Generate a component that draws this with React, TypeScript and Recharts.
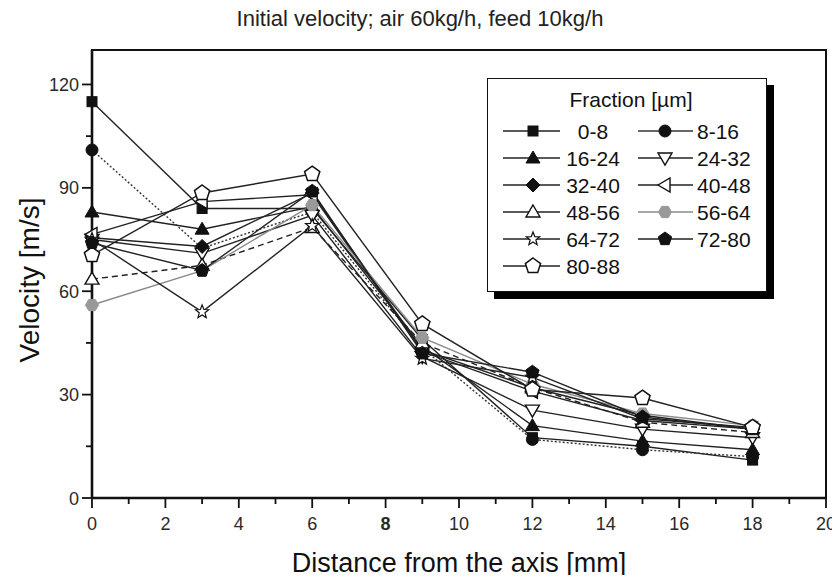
import React from 'react';
import { LineChart, Line, XAxis, YAxis, ReferenceArea, Legend } from 'recharts';

// Radial positions of the measurement points [mm]
const distances = [0, 3, 6, 9, 12, 15, 18];

// Particle size fractions [µm]
const fractions = ['0-8', '8-16', '16-24', '24-32', '32-40', '40-48', '48-56', '56-64', '64-72', '72-80', '80-88'];

// Initial velocity [m/s] of each fraction at the positions above
const vel_0_8 = [115, 84, 84, 46, 17.5, 15, 11];
const vel_8_16 = [101, 72.5, 83, 43.5, 17, 14, 12];
const vel_16_24 = [83, 78, 84.5, 44, 21, 16.5, 14];
const vel_24_32 = [75, 71, 82, 41, 25.5, 20, 17.5];
const vel_32_40 = [75.5, 73, 88.5, 43, 32, 24, 20];
const vel_40_48 = [76.5, 86, 88, 42.5, 31, 22.5, 20];
const vel_48_56 = [63.5, 67.5, 78.5, 45, 32, 22, 19];
const vel_56_64 = [56, 66, 85, 46.5, 33, 24.5, 21];
const vel_64_72 = [75, 54, 79, 40.5, 35, 23, 20.5];
const vel_72_80 = [74, 66, 89, 42, 36.5, 23.5, 20];
const vel_80_88 = [70.5, 88.5, 94, 50.5, 31.5, 29, 20.5];

const seriesValues = [
  vel_0_8, vel_8_16, vel_16_24, vel_24_32, vel_32_40, vel_40_48,
  vel_48_56, vel_56_64, vel_64_72, vel_72_80, vel_80_88,
];

const xTicks = [0, 1, 2, 3, 4, 5, 6, 7, 8, 9, 10, 11, 12, 13, 14, 15, 16, 17, 18, 19, 20];
const yTicks = [0, 15, 30, 45, 60, 75, 90, 105, 120];

type Shape =
  | 'square' | 'circle' | 'triangle' | 'triangleDownOpen' | 'diamond' | 'triangleLeftOpen'
  | 'triangleOpen' | 'hexagonGray' | 'starOpen' | 'pentagon' | 'pentagonOpen';

const styles: { shape: Shape; color: string; dash?: string }[] = [
  { shape: 'square', color: '#222' },
  { shape: 'circle', color: '#333', dash: '2 2' },
  { shape: 'triangle', color: '#222' },
  { shape: 'triangleDownOpen', color: '#222' },
  { shape: 'diamond', color: '#222' },
  { shape: 'triangleLeftOpen', color: '#222' },
  { shape: 'triangleOpen', color: '#222', dash: '6 4' },
  { shape: 'hexagonGray', color: '#8a8a8a' },
  { shape: 'starOpen', color: '#222' },
  { shape: 'pentagon', color: '#222' },
  { shape: 'pentagonOpen', color: '#222' },
];

const data = distances.map((d, i) => {
  const row: Record<string, number> = { x: d };
  seriesValues.forEach((vals, k) => {
    row[`s${k}`] = vals[i];
  });
  return row;
});

const INK = '#111';
const FONT = "'Liberation Sans', Arial, sans-serif";
const TICK_FONT = "'Liberation Sans Narrow', 'Liberation Sans', Arial, sans-serif";

function polygon(cx: number, cy: number, n: number, r: number, rot: number) {
  const pts: string[] = [];
  for (let i = 0; i < n; i++) {
    const a = rot + (i * 2 * Math.PI) / n;
    pts.push(`${cx + r * Math.cos(a)},${cy + r * Math.sin(a)}`);
  }
  return pts.join(' ');
}

function star(cx: number, cy: number, ro: number, ri: number) {
  const pts: string[] = [];
  for (let i = 0; i < 10; i++) {
    const r = i % 2 === 0 ? ro : ri;
    const a = -Math.PI / 2 + (i * Math.PI) / 5;
    pts.push(`${cx + r * Math.cos(a)},${cy + r * Math.sin(a)}`);
  }
  return pts.join(' ');
}

function Marker({ shape, x, y }: { shape: Shape; x: number; y: number }) {
  const open = { fill: '#fff', stroke: INK, strokeWidth: 1.4 };
  const solid = { fill: INK, stroke: INK, strokeWidth: 1 };
  switch (shape) {
    case 'square':
      return <rect x={x - 5} y={y - 5} width={10} height={10} {...solid} />;
    case 'circle':
      return <circle cx={x} cy={y} r={6} {...solid} />;
    case 'triangle':
      return <polygon points={`${x},${y - 7} ${x + 7},${y + 5} ${x - 7},${y + 5}`} {...solid} />;
    case 'triangleOpen':
      return <polygon points={`${x},${y - 7} ${x + 7},${y + 5} ${x - 7},${y + 5}`} {...open} />;
    case 'triangleDownOpen':
      return <polygon points={`${x - 7},${y - 5} ${x + 7},${y - 5} ${x},${y + 7}`} {...open} />;
    case 'triangleLeftOpen':
      return <polygon points={`${x - 7},${y} ${x + 5},${y - 7} ${x + 5},${y + 7}`} {...open} />;
    case 'diamond':
      return <polygon points={`${x},${y - 7} ${x + 7},${y} ${x},${y + 7} ${x - 7},${y}`} {...solid} />;
    case 'hexagonGray':
      return <polygon points={polygon(x, y, 6, 6.5, 0)} fill="#999" stroke="#999" strokeWidth={1} />;
    case 'starOpen':
      return <polygon points={star(x, y, 7, 3)} {...open} strokeWidth={1.2} />;
    case 'pentagon':
      return <polygon points={polygon(x, y, 5, 7, -Math.PI / 2)} {...solid} />;
    case 'pentagonOpen':
      return <polygon points={polygon(x, y, 5, 8, -Math.PI / 2)} {...open} strokeWidth={1.5} />;
    default:
      return null;
  }
}

const makeDot = (shape: Shape) => (props: any) => {
  const { cx, cy, index } = props;
  if (cx == null || cy == null) return <g key={`d-${index}`} />;
  return (
    <g key={`d-${index}`}>
      <Marker shape={shape} x={cx} y={cy} />
    </g>
  );
};

const XTick = (props: any) => {
  const { x, y, payload } = props;
  const v = payload.value as number;
  const major = v % 2 === 0;
  return (
    <g>
      <line x1={x} y1={y} x2={x} y2={y + (major ? 10 : 6)} stroke={INK} strokeWidth={1.8} />
      {major && (
        <text
          x={x}
          y={y + 32}
          textAnchor="middle"
          fontFamily={TICK_FONT}
          fontSize={18}
          fontWeight={v === 8 ? 'bold' : 'normal'}
          fill="#2a2a2a"
        >
          {v}
        </text>
      )}
    </g>
  );
};

const YTick = (props: any) => {
  const { x, y, payload } = props;
  const v = payload.value as number;
  const major = v % 30 === 0;
  return (
    <g>
      <line x1={x - (major ? 10 : 6)} y1={y} x2={x} y2={y} stroke={INK} strokeWidth={1.8} />
      {major && (
        <text x={x - 13} y={y + 6.5} textAnchor="end" fontFamily={TICK_FONT} fontSize={18} fill="#2a2a2a">
          {v}
        </text>
      )}
    </g>
  );
};

// Rotated axis title, centred a little below the middle of the plot height
const YTitle = (props: any) => {
  const vb = props.viewBox || { x: 0, y: 0, width: 0, height: 0 };
  const cx = vb.x + 29;
  const cy = vb.y + vb.height / 2 + 6;
  return (
    <text
      x={cx}
      y={cy}
      transform={`rotate(-90 ${cx} ${cy})`}
      textAnchor="middle"
      dominantBaseline="central"
      fontFamily={FONT}
      fontSize={28}
      fill={INK}
    >
      Velocity [m/s]
    </text>
  );
};

const LEG_W = 280;
const LEG_H = 214;

const renderLegend = () => {
  return (
    <div
      style={{
        width: LEG_W,
        height: LEG_H,
        boxSizing: 'border-box',
        border: `1.5px solid ${INK}`,
        background: '#fff',
        boxShadow: '7px 7px 0 #000',
      }}
    >
      <svg width={LEG_W - 3} height={LEG_H - 3} style={{ display: 'block' }}>
        <text x={143} y={20} textAnchor="middle" dominantBaseline="central" fontFamily={FONT} fontSize={21} fill={INK}>
          Fraction [µm]
        </text>
        {fractions.map((name, i) => {
          const col = i % 2;
          const row = Math.floor(i / 2);
          const cy = 52 + row * 27;
          const st = styles[i];
          const lx1 = col === 0 ? 15 : 150;
          const lx2 = col === 0 ? 72 : 205;
          const mx = col === 0 ? 45 : 177;
          return (
            <g key={name}>
              <line x1={lx1} y1={cy} x2={lx2} y2={cy} stroke={st.color} strokeWidth={1.6} />
              <Marker shape={st.shape} x={mx} y={cy} />
              <text
                x={col === 0 ? 105 : 209}
                y={cy}
                textAnchor={col === 0 ? 'middle' : 'start'}
                dominantBaseline="central"
                fontFamily={FONT}
                fontSize={21}
                fill={INK}
              >
                {name}
              </text>
            </g>
          );
        })}
      </svg>
    </div>
  );
};

export default function App() {
  return (
    <div style={{ position: 'relative', margin: -8, width: 840, height: 583, background: '#fff' }}>
      <div
        style={{
          position: 'absolute',
          left: 0,
          top: 7,
          width: 840,
          textAlign: 'center',
          fontFamily: FONT,
          fontSize: 22,
          lineHeight: '24px',
          color: '#222',
        }}
      >
        Initial velocity; air 60kg/h, feed 10kg/h
      </div>
      <LineChart width={840} height={583} data={data} margin={{ top: 50, right: 14, bottom: 0, left: 0 }}>
        <ReferenceArea x1={0} x2={20} y1={0} y2={130} fill="none" stroke={INK} strokeWidth={2} ifOverflow="visible" />
        <XAxis
          dataKey="x"
          type="number"
          domain={[0, 20]}
          ticks={xTicks}
          interval={0}
          height={85}
          tickSize={0}
          tickMargin={0}
          tick={<XTick />}
          axisLine={{ stroke: INK, strokeWidth: 2.6 }}
          tickLine={false}
          label={{
            value: 'Distance from the axis [mm]',
            position: 'insideBottom',
            offset: 11,
            style: { fontFamily: FONT, fontSize: 27, fill: INK },
          }}
        />
        <YAxis
          type="number"
          domain={[0, 130]}
          ticks={yTicks}
          interval={0}
          width={92}
          tickSize={0}
          tickMargin={0}
          tick={<YTick />}
          axisLine={{ stroke: INK, strokeWidth: 2.6 }}
          tickLine={false}
          label={{ content: <YTitle /> }}
        />
        <Legend
          layout="vertical"
          align="center"
          verticalAlign="middle"
          wrapperStyle={{ left: 487, top: 78, width: LEG_W, height: LEG_H, right: 'auto', bottom: 'auto' }}
          content={renderLegend}
        />
        {fractions.map((name, i) => (
          <Line
            key={name}
            name={name}
            type="linear"
            dataKey={`s${i}`}
            stroke={styles[i].color}
            strokeWidth={1.4}
            strokeDasharray={styles[i].dash}
            dot={makeDot(styles[i].shape)}
            activeDot={false}
            isAnimationActive={false}
          />
        ))}
      </LineChart>
    </div>
  );
}
